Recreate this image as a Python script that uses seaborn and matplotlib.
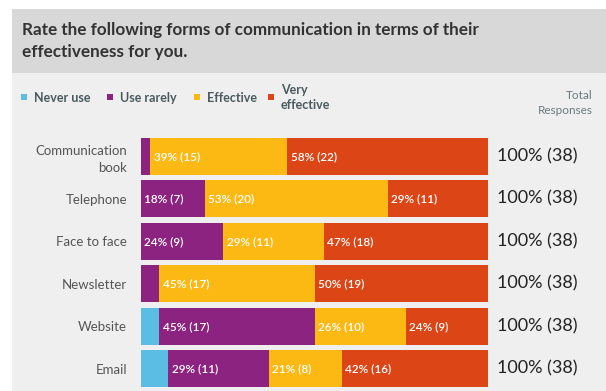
import matplotlib
matplotlib.use("Agg")
import matplotlib.pyplot as plt
from matplotlib.patches import Rectangle
import numpy as np
import pandas as pd
import seaborn as sns

# Survey responses (counts out of 38) for each communication channel
channels = ["Communication\nbook", "Telephone", "Face to face", "Newsletter", "Website", "Email"]
never_use = [0, 0, 0, 0, 2, 3]
use_rarely = [1, 7, 9, 2, 17, 11]
effective = [15, 20, 11, 17, 10, 8]
very_effective = [22, 11, 18, 19, 9, 16]
total_responses = [38, 38, 38, 38, 38, 38]

categories = ["Never use", "Use rarely", "Effective", "Very\neffective"]
colors = ["#5bbde3", "#8c2380", "#fdb913", "#dc4515"]

title = "Rate the following forms of communication in terms of their\neffectiveness for you."

sns.set_theme(style="white")
plt.rcParams["font.family"] = ["Lato", "DejaVu Sans"]

W, H = 606, 391
fig = plt.figure(figsize=(W / 100, H / 100), dpi=100)
fig.patch.set_facecolor("white")

def fx(px):
    return px / W

def fy(py):
    return 1 - py / H

# Panel backgrounds: header band and body
fig.patches.append(Rectangle((fx(12), fy(73)), fx(W - 12), 64 / H, transform=fig.transFigure,
                             facecolor="#d8d8d8", edgecolor="none", zorder=-2))
fig.patches.append(Rectangle((fx(12), 0), fx(W - 12), fy(73), transform=fig.transFigure,
                             facecolor="#efefef", edgecolor="none", zorder=-2))

fig.text(fx(22), fy(22), title, ha="left", va="top", fontsize=12.3, fontweight="bold",
         color="#333333", linespacing=1.5)

# Legend row
legend_x = [21, 107, 194, 268]
for x, lab, c in zip(legend_x, categories, colors):
    fig.patches.append(Rectangle((fx(x), fy(100.5)), fx(6), 6 / H, transform=fig.transFigure,
                                 facecolor=c, edgecolor="none"))
    fig.text(fx(x + 13), fy(97.5), lab, ha="left", va="center", fontsize=9,
             fontweight="bold", color="#4a5a5e", linespacing=1.35)
fig.text(fx(593), fy(103), "Total\nResponses", ha="right", va="center", fontsize=8.5,
         color="#6b7a80", linespacing=1.35)

# Stacked horizontal bars
n = len(channels)
ax = fig.add_axes([fx(141), fy(390), fx(347), 255 / H])
ax.set_facecolor("none")

layers = [never_use, use_rarely, effective, very_effective]
cum = np.cumsum(np.array(layers, dtype=float), axis=0)
totals = np.array(total_responses, dtype=float)
df = pd.DataFrame({"channel": channels})
for i in range(len(layers) - 1, -1, -1):
    df["val"] = cum[i] / totals * 100
    sns.barplot(data=df, x="val", y="channel", orient="h", color=colors[i], width=0.87,
                saturation=1, edgecolor="none", linewidth=0, ax=ax)

# Segment labels
for r in range(n):
    left = 0.0
    for i, layer in enumerate(layers):
        pct = layer[r] / totals[r] * 100
        if pct >= 10:
            ax.text(left + 1.0, r, f"{round(pct)}% ({layer[r]})", ha="left", va="center",
                    fontsize=8.5, color="white", fontweight="semibold")
        left += pct

ax.set_xlim(0, 100)
ax.set_ylim(n - 0.5, -0.5)
ax.set_xlabel("")
ax.set_ylabel("")
ax.set_xticks([])
ax.set_yticks(range(n))
ax.set_yticklabels(channels, fontsize=9.5, color="#555555", ha="right", linespacing=1.45)
ax.tick_params(axis="y", length=0, pad=10)
for s in ax.spines.values():
    s.set_visible(False)

# Totals column
for r in range(n):
    pct = round(sum(l[r] for l in layers) / totals[r] * 100)
    ax.text(102.6, r, f"{pct}% ({total_responses[r]})", ha="left", va="center",
            fontsize=13, color="#222222", clip_on=False)

fig.savefig("out.png", dpi=100, facecolor=fig.get_facecolor())
